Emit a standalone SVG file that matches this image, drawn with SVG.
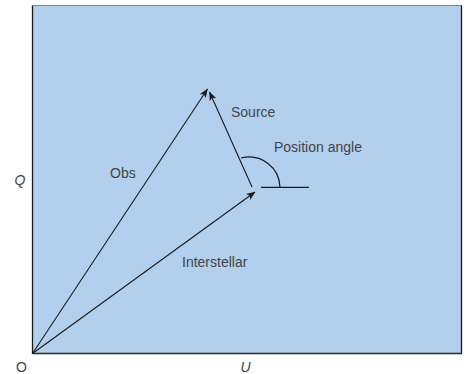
<svg xmlns="http://www.w3.org/2000/svg" width="467" height="374" viewBox="0 0 467 374">
<style>
.lbl{font-family:"Liberation Sans",Arial,sans-serif;font-size:14px;fill:#454545}
.it{font-style:italic}
.vec{stroke:#1a1a1a;stroke-width:1.1;fill:none;marker-end:url(#ah)}
.ln{stroke:#1a1a1a;stroke-width:1.2;fill:none}
</style>
<defs>
<marker id="ah" viewBox="0 0 10 10" refX="9.5" refY="5" markerWidth="9" markerHeight="9" markerUnits="userSpaceOnUse" orient="auto">
<path d="M0,1 L10,5 L0,9 L2.5,5 Z" fill="#1a1a1a"/>
</marker>
</defs>
<g id="frame">
<rect x="32.5" y="6" width="429" height="347.5" fill="#b3cfee"/>
<line x1="32.5" y1="5.5" x2="462" y2="5.5" stroke="#8a8a8a" stroke-width="1.2"/>
<line x1="461.5" y1="5.5" x2="461.5" y2="354" stroke="#1a1a1a" stroke-width="1.3"/>
<line x1="32.5" y1="353.5" x2="462" y2="353.5" stroke="#2a2a2a" stroke-width="1.6"/>
<line x1="32.5" y1="5.5" x2="32.5" y2="354" stroke="#1a1a1a" stroke-width="1.3"/>
</g>
<g id="connectors">
<line class="vec" x1="32.5" y1="353.5" x2="207.5" y2="89"/>
<line class="vec" x1="32.5" y1="353.5" x2="255" y2="192"/>
<line class="vec" x1="252" y1="187" x2="209.5" y2="92"/>
</g>
<g id="angle">
<line class="ln" x1="261" y1="187.3" x2="309" y2="187.3"/>
<path class="ln" d="M280,187.3 A31,31 0 0 0 241,158"/>
</g>
<g id="labels">
<text class="lbl" x="231" y="116.7">Source</text>
<text class="lbl" x="274" y="152">Position angle</text>
<text class="lbl" x="110" y="177.5">Obs</text>
<text class="lbl" x="182" y="267.3">Interstellar</text>
<text class="lbl it" x="14.5" y="184.5">Q</text>
<text class="lbl" x="16" y="372">O</text>
<text class="lbl it" x="240.5" y="372">U</text>
</g>
</svg>
